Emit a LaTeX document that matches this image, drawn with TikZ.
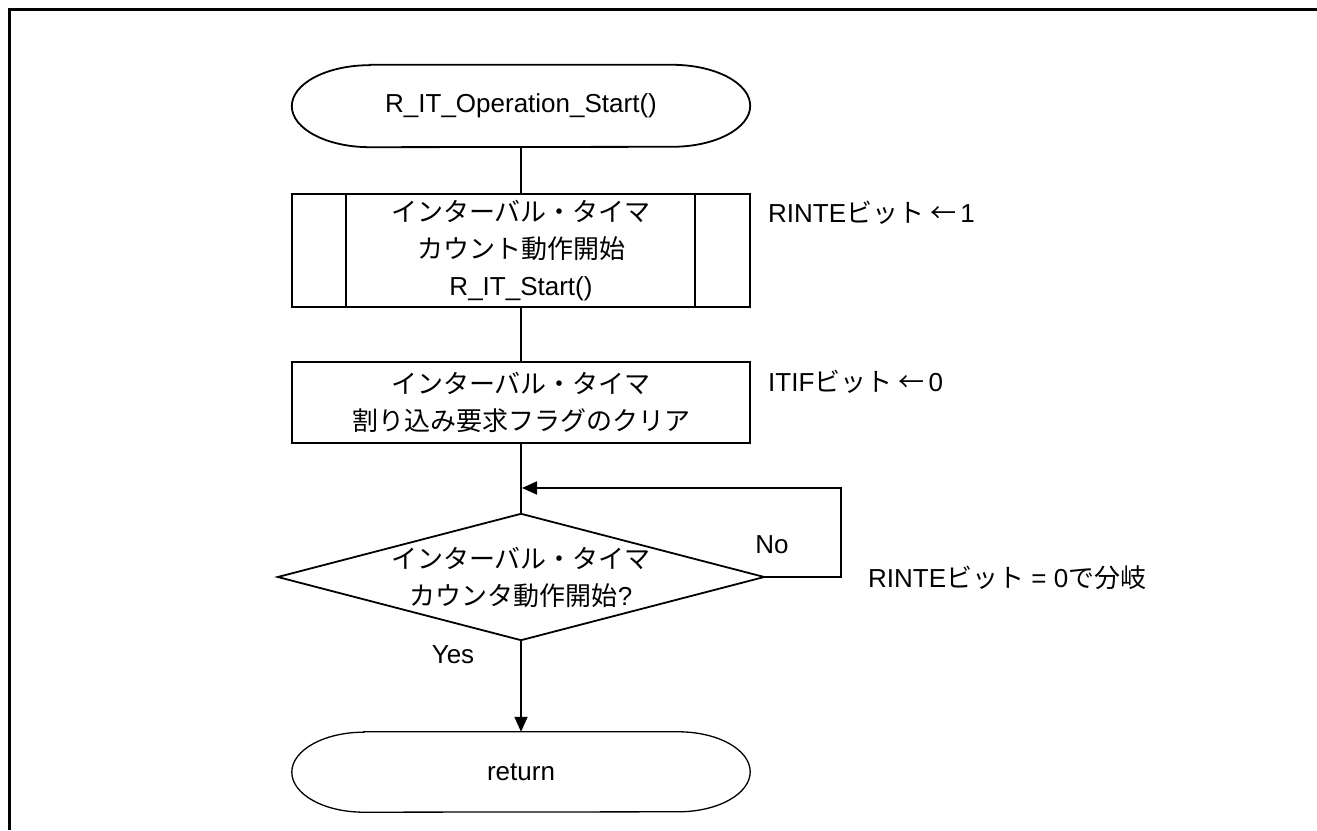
\documentclass[tikz,border=0pt]{standalone}
\usepackage{fontspec}
\setmainfont{Liberation Sans}
\newfontfamily\jpfont{Noto Sans CJK JP}
\usetikzlibrary{arrows.meta}
\newcommand{\J}[1]{{\jpfont #1}}
\newcommand{\drawstadium}[4]{% node, x radius, y radius, line width
  \draw[shapeline, line width=#4] ([xshift=#2]#1.north west) -- ([xshift=-#2]#1.north east)
    arc[start angle=90,end angle=-90,x radius=#2,y radius=#3]
    -- ([xshift=#2]#1.south west)
    arc[start angle=270,end angle=90,x radius=#2,y radius=#3] -- cycle;}
\begin{document}
\begin{tikzpicture}[x=1pt,y=1pt,
  every node/.style={font=\fontsize{26}{37}\selectfont, align=center, inner sep=0pt},
  shapeline/.style={line width=1.8pt, line join=miter},
  termbox/.style={minimum width=458pt, minimum height=82pt},
  procbox/.style={draw, line width=1.8pt, minimum width=458pt},
  decbox/.style={minimum width=486pt, minimum height=126pt},
  flow/.style={line width=1.8pt},
  arrowflow/.style={line width=1.8pt, -{Triangle[length=15pt,width=13pt]}},
  note/.style={anchor=west}
]
\useasboundingbox (0,0) rectangle (1317,830);
% frame
\draw[line width=3pt] (9,0) -- (9,820) -- (1317,820);

\node[termbox] (start) at (521,724) {R\_IT\_Operation\_Start()};
\drawstadium{start}{78}{41}{1.8pt}

\node[procbox, minimum height=113pt] (sub) at (521,579.5)
  {\J{インターバル・タイマ}\\\J{カウント動作開始}\\R\_IT\_Start()};
\draw[flow] ([xshift=55]sub.north west) -- ([xshift=55]sub.south west);
\draw[flow] ([xshift=-56]sub.north east) -- ([xshift=-56]sub.south east);

\node[procbox, minimum height=81pt] (proc) at (521,427.5)
  {\J{インターバル・タイマ}\\\J{割り込み要求フラグのクリア}};

\node[decbox] (dec) at (521,253)
  {\J{インターバル・タイマ}\\\J{カウンタ動作開始}?};
\draw[shapeline] (dec.north) -- (dec.east) -- (dec.south) -- (dec.west) -- cycle;

\node[termbox, minimum height=80pt] (ret) at (521,58) {return};
\drawstadium{ret}{72}{40}{1.3pt}

\coordinate (lr) at (841,342);
\coordinate (lj) at (522,342);

\draw[flow] (start.south) -- (sub.north);
\draw[flow] (sub.south) -- (proc.north);
\draw[flow] (proc.south) -- (dec.north);
\draw[arrowflow] (dec.east) -| (lr) -- (lj);
\draw[arrowflow] (dec.south) -- (ret.north);

\node[note] (n1) at (768,617) {RINTE\J{ビット ←}\,1};
\node[note] (n2) at (768,448) {ITIF\J{ビット ←}\,0};
\node (no) at (772,285) {No};
\node (yes) at (453,175) {Yes};
\node[note] (n3) at (868,252) {RINTE\J{ビット} = 0\J{で分岐}};
\end{tikzpicture}
\end{document}
